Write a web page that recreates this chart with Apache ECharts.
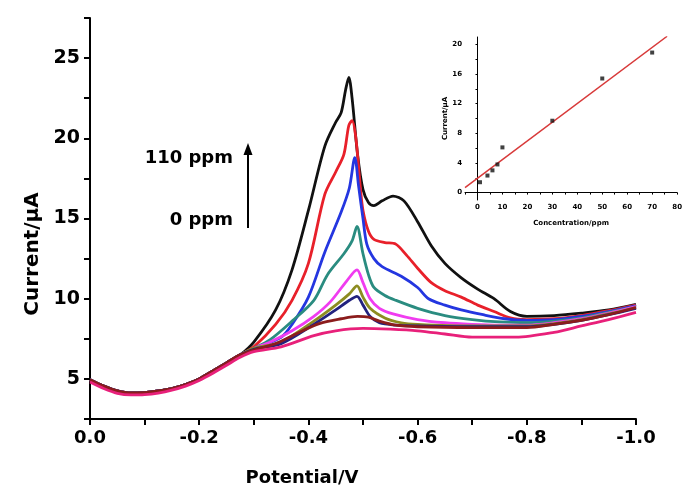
<!DOCTYPE html>
<html><head><meta charset="utf-8">
<script src="https://cdn.jsdelivr.net/npm/echarts@6/dist/echarts.min.js"></script>
<style>html,body{margin:0;padding:0;background:#fff}#c{width:685px;height:493px}</style>
</head><body><div id="c"></div>
<script>
// ---- main voltammogram data: [potential (V), current (uA)] ----
const baseline = [[0,4.95],[-0.025,4.55],[-0.05,4.25],[-0.075,4.12],[-0.1,4.15],[-0.125,4.25],[-0.15,4.4],[-0.175,4.65],[-0.2,5.0],[-0.225,5.5],[-0.25,6.0],[-0.275,6.5]];
const curveBlack = [[-0.3,7.3],[-0.34,9.3],[-0.37,11.8],[-0.4,15.5],[-0.43,19.5],[-0.45,21.0],[-0.46,21.6],[-0.468,23.0],[-0.474,23.8],[-0.48,22.5],[-0.49,19.0],[-0.5,16.8],[-0.51,16.0],[-0.52,15.8],[-0.535,16.1],[-0.555,16.4],[-0.575,16.1],[-0.6,14.8],[-0.625,13.3],[-0.65,12.2],[-0.68,11.3],[-0.71,10.6],[-0.74,10.0],[-0.77,9.2],[-0.8,8.9],[-0.85,8.95],[-0.9,9.1],[-0.95,9.3],[-1.0,9.65]];
const curveRed = [[-0.3,7.0],[-0.34,8.4],[-0.37,9.9],[-0.4,12.2],[-0.43,16.5],[-0.45,17.9],[-0.465,19.0],[-0.474,20.8],[-0.48,21.1],[-0.487,20.0],[-0.495,17.0],[-0.5,15.5],[-0.51,14.2],[-0.52,13.7],[-0.54,13.5],[-0.56,13.4],[-0.58,12.7],[-0.6,11.9],[-0.625,11.0],[-0.65,10.5],[-0.68,10.1],[-0.71,9.6],[-0.74,9.2],[-0.77,8.8],[-0.8,8.7],[-0.85,8.75],[-0.9,8.95],[-0.95,9.25],[-1.0,9.6]];
const curveBlue = [[-0.3,6.9],[-0.35,7.6],[-0.37,8.4],[-0.4,10.1],[-0.43,12.9],[-0.46,15.4],[-0.475,16.9],[-0.485,18.8],[-0.492,17.0],[-0.5,15.0],[-0.507,13.4],[-0.52,12.5],[-0.535,12.0],[-0.57,11.4],[-0.6,10.7],[-0.62,10.0],[-0.65,9.6],[-0.68,9.3],[-0.72,9.0],[-0.76,8.75],[-0.8,8.65],[-0.85,8.7],[-0.9,8.9],[-0.95,9.2],[-1.0,9.55]];
const curveTeal = [[-0.3,6.9],[-0.33,7.45],[-0.37,8.6],[-0.41,9.9],[-0.435,11.5],[-0.465,12.8],[-0.48,13.6],[-0.489,14.5],[-0.5,12.8],[-0.51,11.5],[-0.52,10.7],[-0.54,10.2],[-0.56,9.9],[-0.6,9.4],[-0.65,8.95],[-0.7,8.7],[-0.75,8.55],[-0.8,8.5],[-0.85,8.6],[-0.9,8.8],[-0.95,9.15],[-1.0,9.5]];
const curveMagenta = [[-0.3,6.9],[-0.33,7.3],[-0.37,8.0],[-0.41,8.9],[-0.44,9.8],[-0.47,11.1],[-0.489,11.8],[-0.5,11.0],[-0.513,10.0],[-0.53,9.4],[-0.555,9.05],[-0.6,8.7],[-0.65,8.5],[-0.7,8.4],[-0.75,8.35],[-0.8,8.35],[-0.85,8.5],[-0.9,8.75],[-0.95,9.1],[-1.0,9.5]];
const curveOlive = [[-0.3,6.9],[-0.35,7.3],[-0.41,8.6],[-0.45,9.6],[-0.475,10.3],[-0.489,10.8],[-0.5,10.1],[-0.513,9.4],[-0.54,8.8],[-0.57,8.5],[-0.6,8.4],[-0.7,8.3],[-0.8,8.3],[-0.85,8.45],[-0.9,8.7],[-0.95,9.05],[-1.0,9.45]];
const curveNavy = [[-0.3,6.85],[-0.35,7.2],[-0.41,8.4],[-0.45,9.3],[-0.475,9.9],[-0.489,10.15],[-0.5,9.6],[-0.513,8.9],[-0.53,8.5],[-0.56,8.35],[-0.6,8.3],[-0.7,8.25],[-0.8,8.25],[-0.85,8.4],[-0.9,8.65],[-0.95,9.0],[-1.0,9.4]];
const curveMaroon = [[-0.3,6.8],[-0.34,7.2],[-0.38,7.85],[-0.42,8.45],[-0.46,8.75],[-0.49,8.9],[-0.51,8.85],[-0.53,8.6],[-0.56,8.35],[-0.6,8.25],[-0.7,8.2],[-0.8,8.2],[-0.85,8.4],[-0.9,8.65],[-0.95,9.0],[-1.0,9.45]];
const curvePink = [[0,4.8],[-0.025,4.4],[-0.05,4.1],[-0.075,4.0],[-0.1,4.02],[-0.125,4.12],[-0.15,4.3],[-0.175,4.55],[-0.2,4.9],[-0.225,5.35],[-0.25,5.85],[-0.275,6.35],[-0.3,6.7],[-0.35,7.0],[-0.41,7.7],[-0.45,8.0],[-0.5,8.15],[-0.55,8.1],[-0.6,8.0],[-0.65,7.8],[-0.7,7.6],[-0.78,7.6],[-0.85,7.9],[-0.9,8.3],[-0.95,8.7],[-1.0,9.15]];

// ---- inset calibration data ----
const insetConc = [1, 4, 6, 8, 10, 30, 50, 70];
const insetCurrent = [1.4, 2.3, 3.0, 3.8, 6.1, 9.7, 15.4, 18.9];
const insetFitLine = [[-5, 0.67], [76, 21.1]];
const insetYLabels = [0, 4, 8, 12, 16, 20];
const insetYTicks = [0, 2, 4, 6, 8, 10, 12, 14, 16, 18, 20];

const FONT = 'DejaVu Sans';
const curves = [
  ['110 ppm', curveBlack, '#111111', true],
  ['red', curveRed, '#e8202a', true],
  ['blue', curveBlue, '#2436e0', true],
  ['teal', curveTeal, '#2a8c80', true],
  ['magenta', curveMagenta, '#f03cf0', true],
  ['olive', curveOlive, '#8c8c20', true],
  ['navy', curveNavy, '#22227e', true],
  ['maroon', curveMaroon, '#8b1c1c', true],
  ['0 ppm', curvePink, '#e8207a', false]
];

const series = curves.map(([name, pts, color, useBase]) => ({
  name, type: 'line', xAxisIndex: 0, yAxisIndex: 0,
  data: useBase ? baseline.concat(pts) : pts,
  showSymbol: false, smooth: 0.3,
  lineStyle: { color, width: 2.8 }, itemStyle: { color }, z: 2
}));
series.push({
  type: 'line', xAxisIndex: 1, yAxisIndex: 1, data: insetFitLine,
  showSymbol: false, lineStyle: { color: '#d83a3a', width: 1.5 }, z: 3
});
series.push({
  type: 'scatter', xAxisIndex: 1, yAxisIndex: 1,
  data: insetConc.map((c, i) => [c, insetCurrent[i]]),
  symbol: 'rect', symbolSize: 4, itemStyle: { color: '#111' }, z: 4
});

const axLine = { lineStyle: { color: '#000', width: 2 } };
const chart = echarts.init(document.getElementById('c'), null, { renderer: 'canvas' });
chart.setOption({
  animation: false,
  backgroundColor: '#fff',
  grid: [
    { left: 90, right: 49, top: 18, bottom: 74 },
    { left: 465, right: 6, top: 37, bottom: 293 }
  ],
  xAxis: [
    { type: 'value', gridIndex: 0, min: -1, max: 0, interval: 0.1, inverse: true,
      axisLine: axLine, axisTick: { inside: false, length: 6, lineStyle: { color: '#000', width: 2 } },
      splitLine: { show: false },
      axisLabel: { color: '#000', fontFamily: FONT, fontWeight: 'bold', fontSize: 18, margin: 10,
        formatter: v => (Math.round(Math.abs(v) * 10) % 2 === 0) ? (Math.abs(v) < 1e-9 ? '0.0' : v.toFixed(1)) : '' } },
    { type: 'value', gridIndex: 1, min: -5, max: 80, interval: 5,
      axisLine: { lineStyle: { color: '#000', width: 1 } },
      axisTick: { length: 2, lineStyle: { color: '#000', width: 1 } },
      splitLine: { show: false },
      axisLabel: { color: '#000', fontFamily: FONT, fontWeight: 'bold', fontSize: 7, margin: 4,
        formatter: v => (v >= 0 && v % 10 === 0) ? String(v) : '' },
      name: 'Concentration/ppm', nameLocation: 'middle', nameGap: 20,
      nameTextStyle: { color: '#000', fontFamily: FONT, fontWeight: 'bold', fontSize: 7 } }
  ],
  yAxis: [
    { type: 'value', gridIndex: 0, min: 2.5, max: 27.5, interval: 2.5,
      axisLine: Object.assign({ show: true }, axLine),
      axisTick: { show: true, length: 6, lineStyle: { color: '#000', width: 2 } },
      splitLine: { show: false },
      axisLabel: { color: '#000', fontFamily: FONT, fontWeight: 'bold', fontSize: 19, margin: 10,
        formatter: v => (v >= 5 && v % 5 === 0) ? String(v) : '' } },
    { type: 'value', gridIndex: 1, min: -1, max: 21,
      axisLine: { show: true, lineStyle: { color: '#000', width: 1 } },
      axisTick: { show: true, length: 2, customValues: insetYTicks, lineStyle: { color: '#000', width: 1 } },
      splitLine: { show: false },
      axisLabel: { color: '#000', fontFamily: FONT, fontWeight: 'bold', fontSize: 7, margin: 3,
        customValues: insetYLabels },
      name: 'Current/μA', nameLocation: 'middle', nameGap: 13,
      nameTextStyle: { color: '#000', fontFamily: FONT, fontWeight: 'bold', fontSize: 7 } }
  ],
  series,
  graphic: [
    { type: 'text', x: 33, y: 254, rotation: Math.PI / 2,
      style: { text: 'Current/μA', fill: '#000', font: 'bold 20px "DejaVu Sans"', align: 'center', verticalAlign: 'middle' } },
    { type: 'text', x: 302, y: 478,
      style: { text: 'Potential/V', fill: '#000', font: 'bold 18px "DejaVu Sans"', align: 'center', verticalAlign: 'middle' } },
    { type: 'text', x: 233, y: 158,
      style: { text: '110 ppm', fill: '#000', font: 'bold 18px "DejaVu Sans"', align: 'right', verticalAlign: 'middle' } },
    { type: 'text', x: 233, y: 220,
      style: { text: '0 ppm', fill: '#000', font: 'bold 18px "DejaVu Sans"', align: 'right', verticalAlign: 'middle' } },
    { type: 'line', shape: { x1: 248, y1: 228, x2: 248, y2: 152 }, style: { stroke: '#000', lineWidth: 2 } },
    { type: 'polygon', shape: { points: [[243.5, 155], [252.5, 155], [248, 143]] }, style: { fill: '#000' } }
  ]
});
</script></body></html>
